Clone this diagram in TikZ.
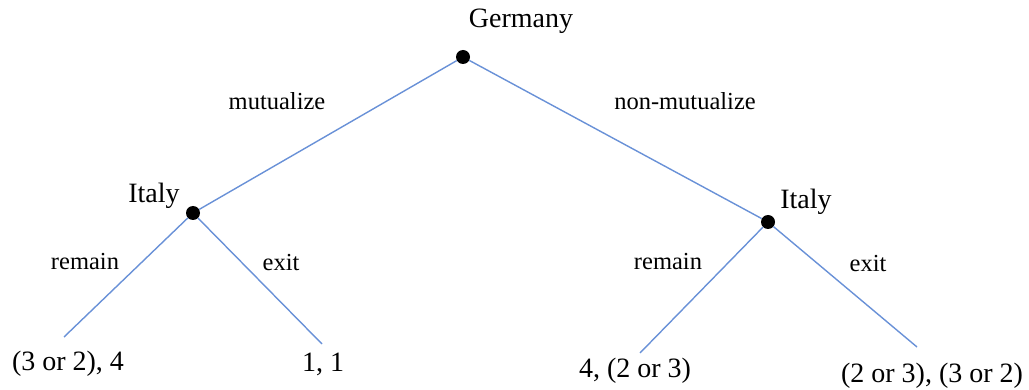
\documentclass[tikz,border=0pt]{standalone}
\usepackage{fontspec}
\setmainfont{Liberation Serif}
\definecolor{edgeblue}{RGB}{105,145,215}
\begin{document}
\begin{tikzpicture}[x=1pt,y=-1pt,
  dot/.style={circle,fill=black,inner sep=0pt,minimum size=14pt},
  edge/.style={edgeblue,line width=1.4pt},
  big/.style={font=\fontsize{28}{32}\selectfont,inner sep=0pt},
  lbl/.style={font=\fontsize{24.5}{29}\selectfont,inner sep=0pt}]
\useasboundingbox (0,0) rectangle (1029,390);
\node[dot] (g) at (463,57) {};
\node[dot] (i1) at (193,213) {};
\node[dot] (i2) at (768,222) {};
\coordinate (l1) at (64,337);
\coordinate (l2) at (322,344);
\coordinate (l3) at (640,353);
\coordinate (l4) at (917,347);
\draw[edge] (g) -- (i1);
\draw[edge] (g) -- (i2);
\draw[edge] (i1) -- (l1);
\draw[edge] (i1) -- (l2);
\draw[edge] (i2) -- (l3);
\draw[edge] (i2) -- (l4);
\node[big] (tg) at (521,21) {Germany};
\node[big] (ti1) at (154,196) {Italy};
\node[big] (ti2) at (806,202) {Italy};
\node[lbl] (m) at (277,101) {mutualize};
\node[lbl] (nm) at (685,101) {non-mutualize};
\node[lbl] (r1) at (85,262) {remain};
\node[lbl] (e1) at (281,263) {exit};
\node[lbl] (r2) at (668,262) {remain};
\node[lbl] (e2) at (868,264) {exit};
\node[big] (p1) at (68,364) {(3 or 2), 4};
\node[big] (p2) at (323,364) {1, 1};
\node[big] (p3) at (635,371) {4, (2 or 3)};
\node[big] (p4) at (932,376) {(2 or 3), (3 or 2)};
\end{tikzpicture}
\end{document}
